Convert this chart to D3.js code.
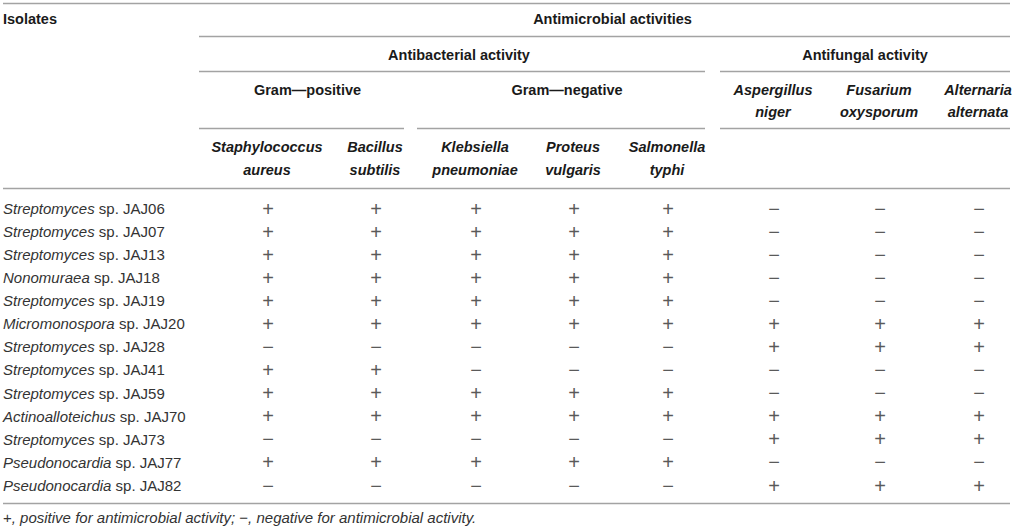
<!DOCTYPE html>
<html>
<head>
<meta charset="utf-8">
<script src="https://cdn.jsdelivr.net/npm/d3@7"></script>
<style>
  body { margin: 0; background: #fff; }
  svg text { font-family: "Liberation Sans", Arial, sans-serif; }
</style>
</head>
<body>
<svg id="mysvg"></svg>
<script>
// isolates (rows): genus in italics, strain upright
const genera = ["Streptomyces", "Streptomyces", "Streptomyces", "Nonomuraea", "Streptomyces",
    "Micromonospora", "Streptomyces", "Streptomyces", "Streptomyces", "Actinoalloteichus",
    "Streptomyces", "Pseudonocardia", "Pseudonocardia"];
const strains = ["JAJ06", "JAJ07", "JAJ13", "JAJ18", "JAJ19", "JAJ20", "JAJ28",
    "JAJ41", "JAJ59", "JAJ70", "JAJ73", "JAJ77", "JAJ82"];

// test organisms (columns), two header lines each
const testGenus = ["Staphylococcus", "Bacillus", "Klebsiella", "Proteus", "Salmonella",
    "Aspergillus", "Fusarium", "Alternaria"];
const testSpecies = ["aureus", "subtilis", "pneumoniae", "vulgaris", "typhi",
    "niger", "oxysporum", "alternata"];

// header groups and how many organism columns they cover
const activityGroups = ["Antibacterial activity", "Antifungal activity"];
const activitySpans = [5, 3];
const gramGroups = ["Gram\u2014positive", "Gram\u2014negative"];
const gramSpans = [2, 3];

// 1 = positive (+), 0 = negative (−)
const activity = [
    [1, 1, 1, 1, 1, 0, 0, 0],
    [1, 1, 1, 1, 1, 0, 0, 0],
    [1, 1, 1, 1, 1, 0, 0, 0],
    [1, 1, 1, 1, 1, 0, 0, 0],
    [1, 1, 1, 1, 1, 0, 0, 0],
    [1, 1, 1, 1, 1, 1, 1, 1],
    [0, 0, 0, 0, 0, 1, 1, 1],
    [1, 1, 0, 0, 0, 0, 0, 0],
    [1, 1, 1, 1, 1, 0, 0, 0],
    [1, 1, 1, 1, 1, 1, 1, 1],
    [0, 0, 0, 0, 0, 1, 1, 1],
    [1, 1, 1, 1, 1, 0, 0, 0],
    [0, 0, 0, 0, 0, 1, 1, 1]
];

// layout
const w = 1014, h = 530;
const colBox = [[199, 335], [346, 404], [417, 533], [540, 606], [629, 705],
    [720, 826], [834, 924], [946, 1010]];
const ruleColor = "#a3a3a3";
const headColor = "#1a1a1a";
const bodyColor = "#333";

const isolates = strains.map((s, i) => genera[i] + " sp. " + s);

const xScale = d3.scaleOrdinal()
    .domain(testGenus)
    .range(colBox.map(b => (b[0] + b[1]) / 2));

const yScale = d3.scalePoint()
    .domain(isolates)
    .range([208.5, 485.5]);

const svg = d3.select("#mysvg")
    .attr("width", w)
    .attr("height", h);

function rule(x1, x2, y) {
    svg.append("line")
        .attr("x1", x1).attr("x2", x2)
        .attr("y1", y).attr("y2", y)
        .attr("stroke", ruleColor)
        .attr("stroke-width", 1.3);
}

function headText(x, y, txt, italic) {
    svg.append("text")
        .attr("x", x).attr("y", y)
        .attr("dy", "0.36em")
        .attr("text-anchor", "middle")
        .attr("font-size", 14.5)
        .attr("font-weight", "bold")
        .attr("font-style", italic ? "italic" : "normal")
        .attr("fill", headColor)
        .text(txt);
}

// groups -> spans of columns
function spanBounds(spans, offset) {
    let start = offset, out = [];
    spans.forEach(n => {
        out.push([colBox[start][0], colBox[start + n - 1][1]]);
        start += n;
    });
    return out;
}

// Header rules
rule(3, 1010, 3.5);
rule(colBox[0][0], colBox[7][1], 36.5);
const actBounds = spanBounds(activitySpans, 0);
actBounds.forEach(b => rule(b[0], b[1], 71.5));
const gramBounds = spanBounds(gramSpans, 0);
gramBounds.forEach(b => rule(b[0], b[1], 128.5));
rule(actBounds[1][0], actBounds[1][1], 128.5);
rule(3, 1010, 188.5);
rule(3, 1010, 503.5);

// Header labels
svg.append("text")
    .attr("x", 3).attr("y", 19)
    .attr("dy", "0.36em")
    .attr("font-size", 14.5)
    .attr("font-weight", "bold")
    .attr("fill", headColor)
    .text("Isolates");

headText((colBox[0][0] + colBox[7][1]) / 2 + 8, 19, "Antimicrobial activities");
activityGroups.forEach((g, i) => headText((actBounds[i][0] + actBounds[i][1]) / 2 + (i ? 0 : 7), 54.5, g));
gramGroups.forEach((g, i) => headText((gramBounds[i][0] + gramBounds[i][1]) / 2 + 6, 89.5, g));

// organism names: bacteria below the gram row, fungi directly under their group
testGenus.forEach((g, i) => {
    const fungus = i >= activitySpans[0];
    headText(xScale(g), fungus ? 89.5 : 147, g, true);
    headText(xScale(g), fungus ? 111.5 : 169.5, testSpecies[i], true);
});

// Row labels
const rowLabels = svg.append("g").selectAll("text")
    .data(isolates)
    .enter().append("text")
    .attr("x", 3)
    .attr("y", d => yScale(d))
    .attr("dy", "0.36em")
    .attr("font-size", 15)
    .attr("fill", bodyColor);

rowLabels.append("tspan")
    .attr("font-style", "italic")
    .text((d, i) => genera[i]);
rowLabels.append("tspan")
    .text((d, i) => " sp. " + strains[i]);

// Cells
const rows = svg.append("g").selectAll("g")
    .data(activity)
    .enter().append("g");

rows.selectAll("text")
    .data((d, i) => d.map((v, j) => ({ row: isolates[i], col: testGenus[j], v: v })))
    .enter().append("text")
    .attr("x", d => xScale(d.col) + 1)
    .attr("y", d => yScale(d.row))
    .attr("dy", "0.35em")
    .attr("text-anchor", "middle")
    .attr("font-size", 20)
    .attr("fill", "#5a5a5a")
    .text(d => d.v ? "+" : "\u2212");

// Footnote
const note = svg.append("text")
    .attr("x", 3).attr("y", 518)
    .attr("dy", "0.36em")
    .attr("font-size", 15)
    .attr("fill", bodyColor);
note.append("tspan").text("+");
note.append("tspan").attr("font-style", "italic").text(", positive for antimicrobial activity; ");
note.append("tspan").text("\u2212");
note.append("tspan").attr("font-style", "italic").text(", negative for antimicrobial activity.");
</script>
</body>
</html>
